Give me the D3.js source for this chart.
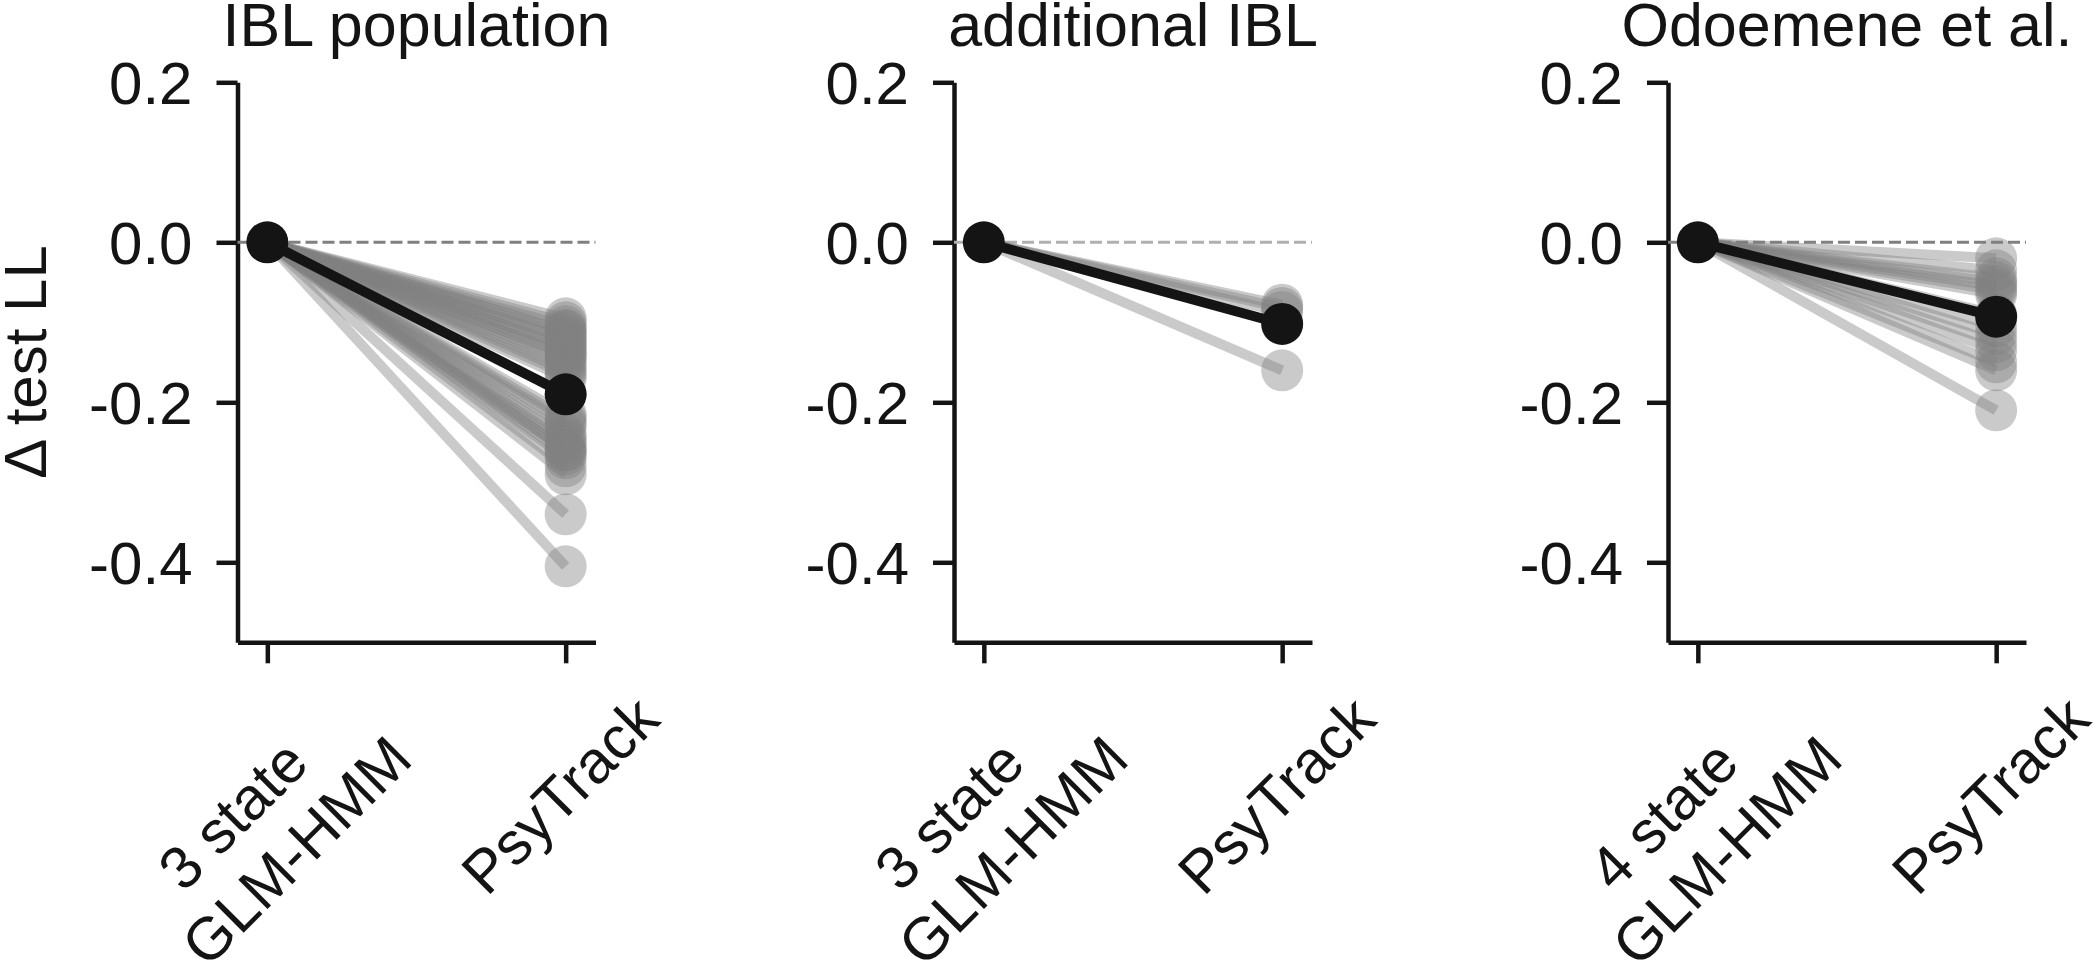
<!DOCTYPE html>
<html lang="en">
<head>
<meta charset="UTF-8">
<title>Delta test LL</title>
<script src="https://cdn.jsdelivr.net/npm/d3@7"></script>
<style>
    body { margin: 0; background: #fff; }
    svg { display: block; font-family: "Liberation Sans", Arial, Helvetica, sans-serif; }
    .axis path, .axis line { stroke: #141414; stroke-width: 4.5; }
</style>
</head>
<body>
<svg id="chart" width="2100" height="970"></svg>
<script>
// panel titles and x categories
const panelTitles = ["IBL population", "additional IBL", "Odoemene et al."];
const glmLabels = [["3 state", "GLM-HMM"], ["3 state", "GLM-HMM"], ["4 state", "GLM-HMM"]];
const psyLabel = "PsyTrack";
const yTicks = [0.2, 0.0, -0.2, -0.4];

// per-animal PsyTrack delta LL (GLM-HMM is the 0 reference)
const iblPopulation = [-0.095, -0.10, -0.105, -0.11, -0.11, -0.115, -0.12, -0.12, -0.125,
    -0.13, -0.13, -0.135, -0.14, -0.14, -0.145, -0.15, -0.155, -0.16, -0.165, -0.17,
    -0.215, -0.22, -0.225, -0.23, -0.24, -0.245, -0.25, -0.255, -0.26, -0.26,
    -0.265, -0.27, -0.28, -0.29,
    -0.34, -0.405];
const additionalIBL = [-0.078, -0.082, -0.087, -0.16];
const odoemene = [-0.02, -0.035, -0.045, -0.05, -0.055, -0.06, -0.065, -0.09,
    -0.105, -0.115, -0.125, -0.135, -0.15, -0.16, -0.21];
// mean across animals (black)
const meanPsyTrack = [-0.19, -0.102, -0.093];

const panelData = [iblPopulation, additionalIBL, odoemene];
const panelLeft = [237.5, 954, 1668];
const zeroLineColor = ["#808080", "#b0b0b0", "#808080"];

const svg = d3.select("#chart");
const fontSize = 60;

const y = d3.scaleLinear().domain([-0.5, 0.2]).range([642.3, 82.3]);

panelData.forEach((vals, i) => {
    const left = panelLeft[i];
    const x = d3.scaleLinear().domain([-0.1, 1.1]).range([left, left + 358]);
    const g = svg.append("g");

    // axes
    g.append("g")
        .attr("class", "axis")
        .attr("transform", `translate(${left},0)`)
        .call(d3.axisLeft(y).tickValues(yTicks).tickSize(21).tickSizeOuter(0)
            .tickPadding(24).tickFormat(d => d.toFixed(1)))
        .call(a => a.selectAll("text")
            .attr("font-size", fontSize).attr("fill", "#141414")
            .attr("font-family", null).attr("dy", "0.36em"));

    g.append("g")
        .attr("class", "axis")
        .attr("transform", `translate(0,${y(-0.5)})`)
        .call(d3.axisBottom(x).tickValues([0, 1]).tickSize(21).tickSizeOuter(0).tickFormat(""));

    // zero reference
    g.append("line")
        .attr("x1", x(-0.1)).attr("x2", x(1.1))
        .attr("y1", y(0)).attr("y2", y(0))
        .attr("stroke", zeroLineColor[i]).attr("stroke-width", 3)
        .attr("stroke-dasharray", "12,5");

    // individual animals
    vals.forEach(v => {
        g.append("line")
            .attr("x1", x(0)).attr("y1", y(0))
            .attr("x2", x(1)).attr("y2", y(v))
            .attr("stroke", "#808080").attr("stroke-opacity", 0.42)
            .attr("stroke-width", 10);
        g.append("circle")
            .attr("cx", x(1)).attr("cy", y(v)).attr("r", 21)
            .attr("fill", "#808080").attr("fill-opacity", 0.42);
    });

    // mean
    g.append("line")
        .attr("x1", x(0)).attr("y1", y(0))
        .attr("x2", x(1)).attr("y2", y(meanPsyTrack[i]))
        .attr("stroke", "#141414").attr("stroke-width", 10);
    [[0, 0], [1, meanPsyTrack[i]]].forEach(p => {
        g.append("circle")
            .attr("cx", x(p[0])).attr("cy", y(p[1])).attr("r", 21)
            .attr("fill", "#141414");
    });

    // title
    g.append("text")
        .attr("x", left + 179).attr("y", 46)
        .attr("text-anchor", "middle").attr("font-size", 61)
        .attr("fill", "#141414")
        .text(panelTitles[i]);

    // rotated category labels
    const lab = (tx, ty, s) => g.append("text")
        .attr("transform", `translate(${tx},${ty}) rotate(-45)`)
        .attr("text-anchor", "middle").attr("font-size", fontSize)
        .attr("fill", "#141414")
        .text(s);
    lab(x(0) - 20, 829.7, glmLabels[i][0]);
    lab(x(0) + 43.7, 865.5, glmLabels[i][1]);
    lab(x(1) + 9, 810, psyLabel);
});

// y label
svg.append("text")
    .attr("transform", "translate(46,362) rotate(-90)")
    .attr("text-anchor", "middle").attr("font-size", fontSize)
    .attr("fill", "#141414")
    .text("Δ test LL");
</script>
</body>
</html>
